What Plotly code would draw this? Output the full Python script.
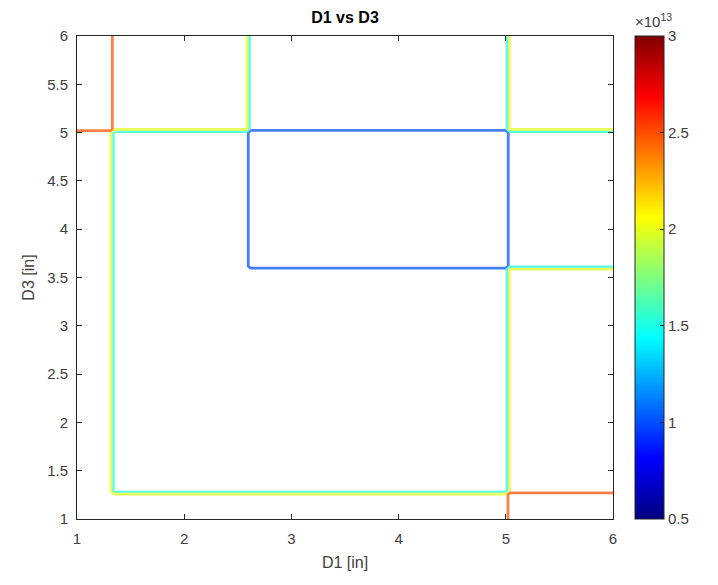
import plotly.graph_objects as go

# Region boundaries (inches)
d1_breaks = [1.33, 2.6, 5.02]
d3_breaks = [1.27, 3.6, 5.02]
d1_range = [1, 6]
d3_range = [1, 6]

# Region values (x 1e13), rows = D3 bands from bottom, cols = D1 bands from left
region_values = [
    [2.1, 2.1, 2.1, 2.9],
    [2.1, 1.3, 1.3, 2.1],
    [2.1, 1.3, 0.6, 1.3],
    [2.9, 2.1, 1.3, 2.1],
]
levels_start, levels_end, levels_step = 0.5, 3.0, 0.5
cmin, cmax = 0.5, 3.0
cbar_ticks = [0.5, 1, 1.5, 2, 2.5, 3]

# Build a grid whose nodes hug each boundary
half = 0.018
def nodes(rng, breaks):
    pts = [rng[0]]
    for b in breaks:
        pts += [b - half, b + half]
    pts.append(rng[1])
    return pts

xs = nodes(d1_range, d1_breaks)
ys = nodes(d3_range, d3_breaks)
def band(i):
    return i // 2  # node index -> band index
z = [[region_values[band(j)][band(i)] for i in range(len(xs))] for j in range(len(ys))]

jet = [
    [0.0, "rgb(0,0,128)"],
    [0.125, "rgb(0,0,255)"],
    [0.375, "rgb(0,255,255)"],
    [0.625, "rgb(255,255,0)"],
    [0.875, "rgb(255,0,0)"],
    [1.0, "rgb(128,0,0)"],
]

txt = "#404040"
fnt = "Arial"

fig = go.Figure()
fig.add_trace(go.Contour(
    x=xs, y=ys, z=z,
    colorscale=jet, zmin=cmin, zmax=cmax, zauto=False,
    contours=dict(coloring="lines", start=levels_start, end=levels_end,
                  size=levels_step, showlabels=False),
    line=dict(width=2.8, smoothing=0),
    opacity=0.72,
    showscale=False, hoverinfo="skip",
))
# colour bar carrier
fig.add_trace(go.Scatter(
    x=[None], y=[None], mode="markers",
    marker=dict(color=[cmin], cmin=cmin, cmax=cmax, colorscale=jet, showscale=True,
                colorbar=dict(
                    x=(635 - 77) / (613 - 77), xanchor="left", xpad=0, ypad=0,
                    y=0.5, yanchor="middle", len=1, lenmode="fraction",
                    thickness=29, outlinewidth=1, outlinecolor="#262626",
                    tickvals=cbar_ticks, ticktext=[("%g" % v) for v in cbar_ticks],
                    ticks="inside", ticklen=4, tickcolor="#262626",
                    tickfont=dict(family=fnt, size=15, color=txt),
                )),
    showlegend=False, hoverinfo="skip",
))

axis_common = dict(
    showline=True, linecolor="#262626", linewidth=1, mirror="ticks",
    ticks="inside", ticklen=5, tickcolor="#262626",
    showgrid=False, zeroline=False,
    tickfont=dict(family=fnt, size=15, color=txt),
)
fig.update_xaxes(range=d1_range, dtick=1, tick0=1, ticklabelstandoff=6,
                 title=dict(text="D1 [in]", font=dict(family=fnt, size=16, color=txt), standoff=10),
                 **axis_common)
fig.update_yaxes(range=d3_range, dtick=0.5, tick0=1, ticklabelstandoff=5,
                 title=dict(text="D3 [in]", font=dict(family=fnt, size=16, color=txt), standoff=8),
                 **axis_common)

fig.update_layout(
    width=718, height=585,
    margin=dict(l=77, r=105, t=36, b=66),
    plot_bgcolor="white", paper_bgcolor="white",
    title=dict(text="<b>D1 vs D3</b>", x=(77 + 613) / 2 / 718, xref="container", xanchor="center",
               y=1 - 17 / 585, yref="container", yanchor="middle",
               font=dict(family=fnt, size=16, color="#000000")),
    annotations=[dict(text="\u00d710<sup>13</sup>", x=(633 - 77) / (613 - 77), xref="paper", xanchor="left",
                      y=1.0, yref="paper", yanchor="bottom", yshift=4, showarrow=False,
                      font=dict(family=fnt, size=15, color=txt))],
)

fig.write_html("out.html")
